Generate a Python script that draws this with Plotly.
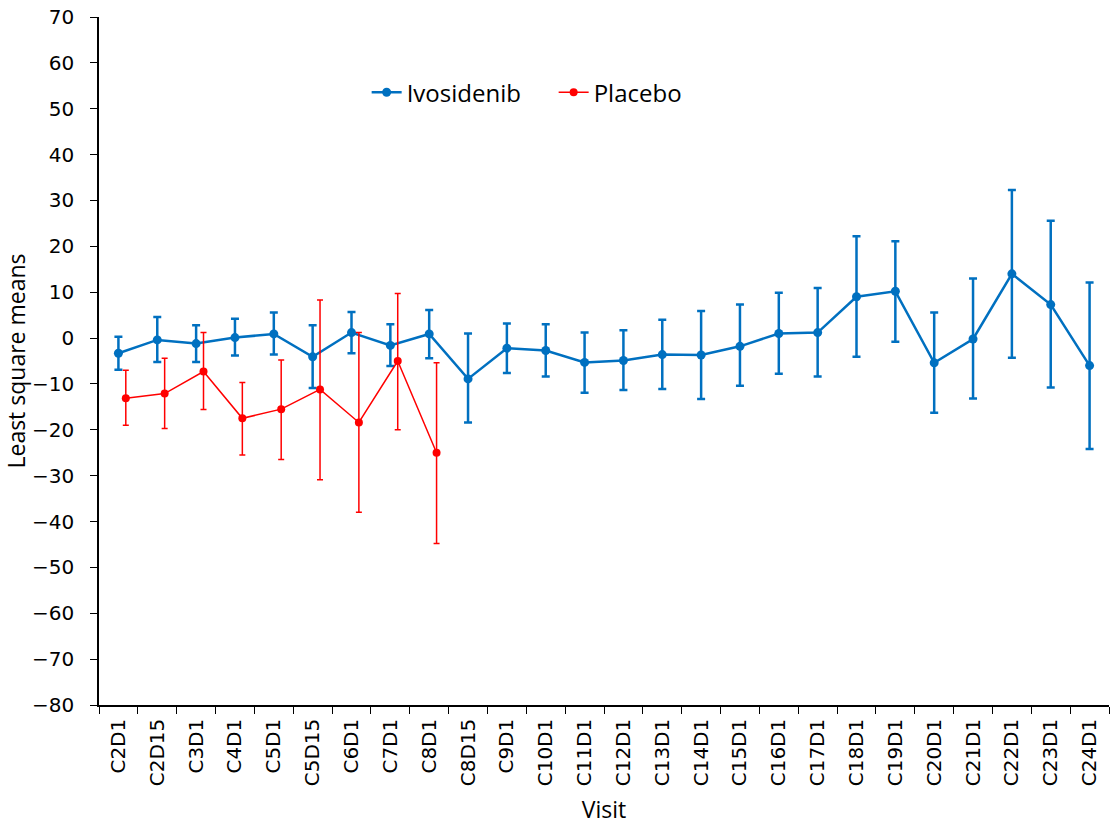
import plotly.graph_objects as go

visits = ["C2D1", "C2D15", "C3D1", "C4D1", "C5D1", "C5D15", "C6D1", "C7D1", "C8D1",
          "C8D15", "C9D1", "C10D1", "C11D1", "C12D1", "C13D1", "C14D1", "C15D1",
          "C16D1", "C17D1", "C18D1", "C19D1", "C20D1", "C21D1", "C22D1", "C23D1", "C24D1"]

ivo_mean = [-3.3, -0.4, -1.2, 0.1, 0.9, -4.1, 1.2, -1.6, 0.9, -8.9, -2.2, -2.7, -5.3,
            -4.9, -3.6, -3.7, -1.8, 1.0, 1.2, 9.0, 10.2, -5.4, -0.2, 14.0, 7.3, -6.0]
ivo_upper = [0.3, 4.6, 2.8, 4.2, 5.6, 2.8, 5.7, 3.0, 6.1, 1.0, 3.2, 3.0, 1.2,
             1.7, 4.0, 5.9, 7.3, 9.9, 10.9, 22.2, 21.1, 5.6, 13.0, 32.3, 25.6, 12.1]
ivo_lower = [-6.9, -5.2, -5.2, -3.8, -3.6, -10.9, -3.3, -6.1, -4.4, -18.4, -7.6, -8.4, -11.9,
             -11.3, -11.1, -13.3, -10.4, -7.8, -8.4, -4.1, -0.8, -16.3, -13.2, -4.3, -10.8, -24.2]

pbo_visits = ["C2D1", "C2D15", "C3D1", "C4D1", "C5D1", "C5D15", "C6D1", "C7D1", "C8D1"]
pbo_mean = [-13.1, -12.1, -7.3, -17.5, -15.5, -11.2, -18.4, -5.0, -25.0]
pbo_upper = [-7.0, -4.4, 1.2, -9.7, -4.8, 8.3, 1.2, 9.7, -5.4]
pbo_lower = [-19.0, -19.7, -15.6, -25.5, -26.5, -30.9, -38.0, -20.0, -44.8]

y_ticks = list(range(-80, 71, 10))

BLUE = "#0070C0"
RED = "#FF0000"
PBO_SHIFT = 0.19

fig = go.Figure()

fig.add_trace(go.Scatter(
    x=visits, y=ivo_mean, name="Ivosidenib", mode="lines+markers",
    line=dict(color=BLUE, width=2.5), marker=dict(color=BLUE, size=9),
    error_y=dict(type="data", symmetric=False,
                 array=[u - m for u, m in zip(ivo_upper, ivo_mean)],
                 arrayminus=[m - l for m, l in zip(ivo_mean, ivo_lower)],
                 color=BLUE, thickness=2.5, width=4),
))

pbo_x = [visits.index(v) + PBO_SHIFT for v in pbo_visits]
fig.add_trace(go.Scatter(
    x=pbo_x, y=pbo_mean, name="Placebo", mode="lines+markers", xaxis="x2",
    line=dict(color=RED, width=1.5), marker=dict(color=RED, size=8),
    error_y=dict(type="data", symmetric=False,
                 array=[u - m for u, m in zip(pbo_upper, pbo_mean)],
                 arrayminus=[m - l for m, l in zip(pbo_mean, pbo_lower)],
                 color=RED, thickness=1.5, width=3),
))

tick_font = dict(family="DejaVu Sans", size=20, color="black")
title_font = dict(family="Open Sans", size=23, color="black")

fig.update_layout(
    width=1110, height=825,
    margin=dict(l=99, r=1, t=17, b=120),
    paper_bgcolor="white", plot_bgcolor="white",
    showlegend=True,
    legend=dict(orientation="h", x=0.265, y=0.89, xanchor="left", yanchor="middle",
                font=dict(family="Open Sans", size=24, color="black"),
                bgcolor="rgba(0,0,0,0)", itemwidth=30, entrywidthmode="pixels",
                entrywidth=142),
    xaxis=dict(type="category", categoryorder="array", categoryarray=visits,
               range=[-0.5, len(visits) - 0.5],
               showline=True, linecolor="black", linewidth=1.5,
               ticks="outside", ticklen=7, tickcolor="black", tickson="boundaries",
               tickangle=-90, tickfont=tick_font, showgrid=False, zeroline=False,
               ticklabelstandoff=4,
               title=dict(text="Visit", font=title_font, standoff=18)),
    xaxis2=dict(overlaying="x", range=[-0.5, len(visits) - 0.5], visible=False),
    yaxis=dict(range=[-80, 70], tickvals=y_ticks,
               showline=True, linecolor="black", linewidth=1.5,
               ticks="outside", ticklen=7, tickcolor="black",
               tickfont=tick_font, showgrid=False, zeroline=False,
               ticklabelstandoff=12,
               title=dict(text="Least square means", font=title_font, standoff=6)),
)

fig.write_html("out.html")
